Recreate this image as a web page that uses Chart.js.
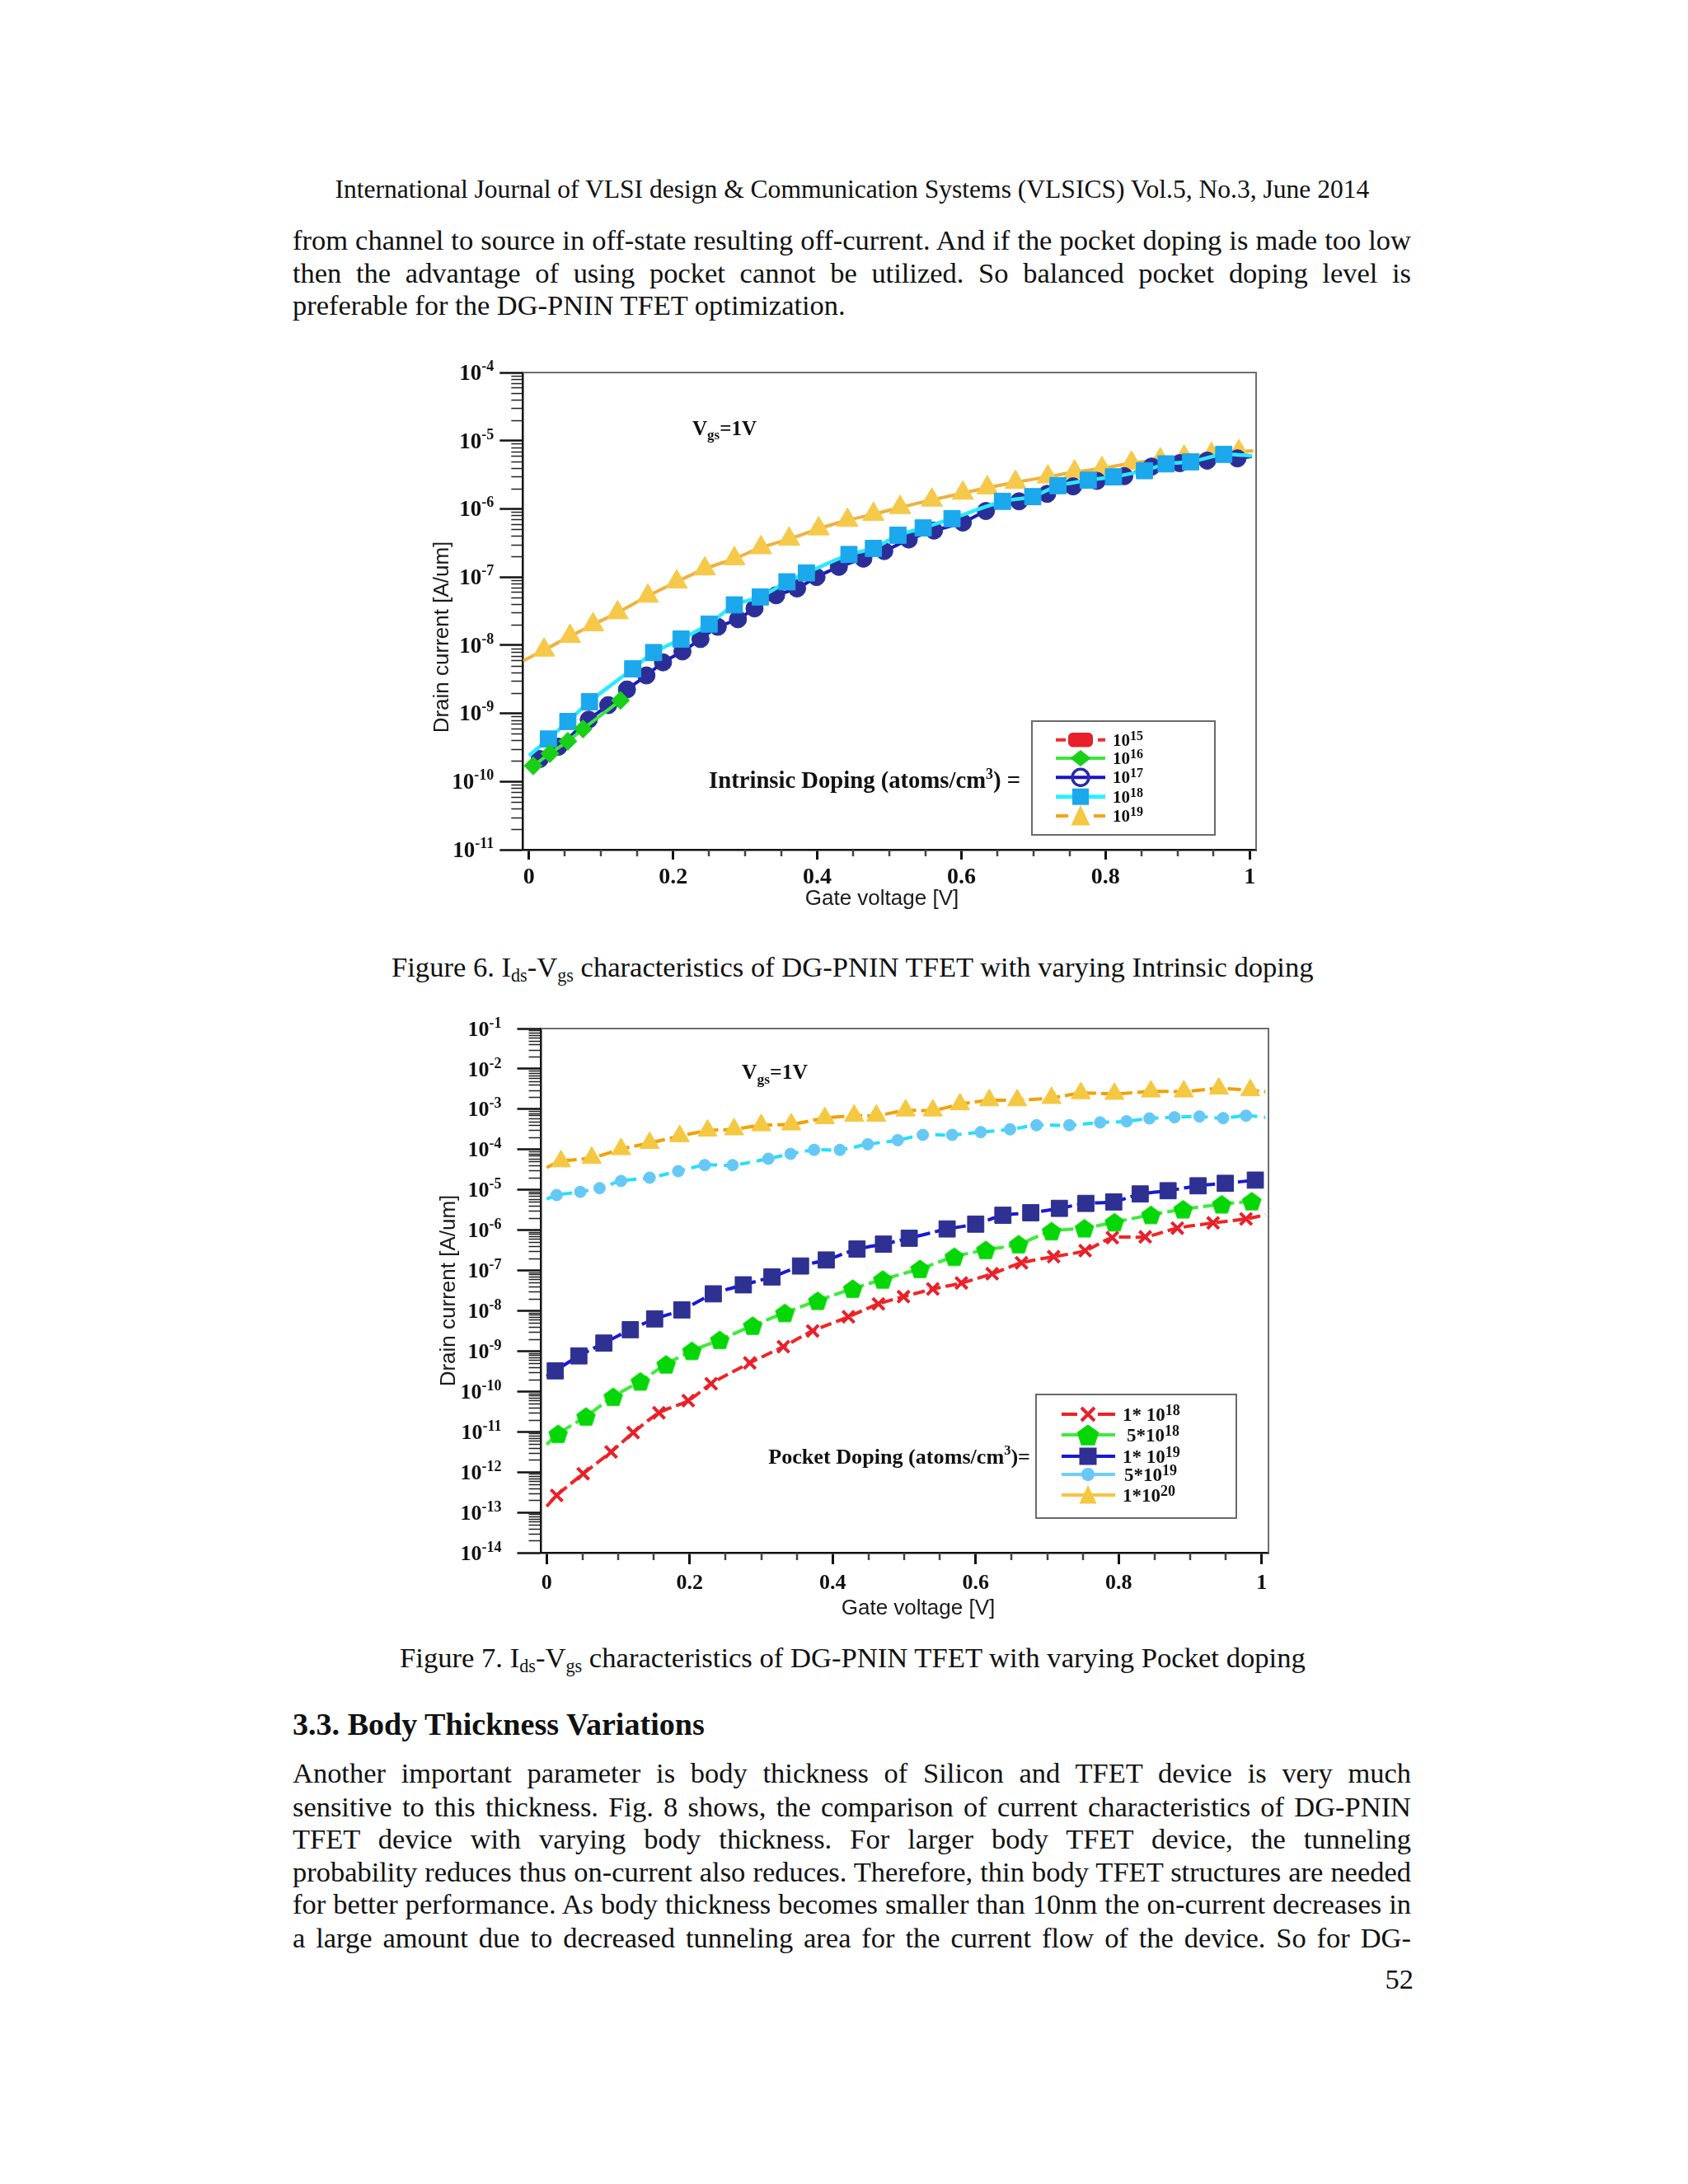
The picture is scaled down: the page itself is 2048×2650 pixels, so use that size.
<!DOCTYPE html>
<html lang="en">
<head>
<meta charset="UTF-8">
<title>DG-PNIN TFET Ids-Vgs characteristics</title>
<script src="https://cdn.jsdelivr.net/npm/chart.js@4.4.1/dist/chart.umd.min.js"></script>
<style>
  html, body { margin: 0; padding: 0; background: #fff; }
  #page { position: relative; width: 2048px; height: 2650px; overflow: hidden;
          font-family: 'Liberation Serif', 'Times New Roman', serif; color: #111; }
  .t { position: absolute; line-height: 44px; white-space: nowrap; }
  .t sub { font-size: 0.64em; vertical-align: -0.28em; line-height: 0; }
  .bold { font-weight: bold; }
  .line { position: absolute; left: 355px; width: 1357px; line-height: 44px; white-space: nowrap; }
  .line.just { white-space: normal; text-align: justify; text-align-last: justify; }
  .chartbox { position: absolute; }
</style>
</head>
<body>
<div id="page">
  <div class="t fit" data-cx="1034" data-cy="230" data-w="1255">International Journal of VLSI design &amp; Communication Systems (VLSICS) Vol.5, No.3, June 2014</div>

  <div class="line" data-cy="291" data-j="1"><span>from channel to source in off-state resulting off-current. And if the pocket doping is made too low</span></div>
  <div class="line" data-cy="331" data-j="1"><span>then the advantage of using pocket cannot be utilized. So balanced pocket doping level is</span></div>
  <div class="line" data-cy="370"><span>preferable for the DG-PNIN TFET optimization.</span></div>

  <div class="chartbox" style="left:480px;top:430px;width:1070px;height:690px;"><canvas id="fig6" width="1070" height="690"></canvas></div>
  <div class="t fit" data-cx="1034.5" data-cy="1173" data-w="1119">Figure 6. I<sub>ds</sub>-V<sub>gs</sub> characteristics of DG-PNIN TFET with varying Intrinsic doping</div>

  <div class="chartbox" style="left:480px;top:1220px;width:1080px;height:760px;"><canvas id="fig7" width="1080" height="760"></canvas></div>
  <div class="t fit" data-cx="1034.5" data-cy="2011" data-w="1099">Figure 7. I<sub>ds</sub>-V<sub>gs</sub> characteristics of DG-PNIN TFET with varying Pocket doping</div>

  <div class="t fit bold" data-x="355" data-cy="2092" data-w="500">3.3. Body Thickness Variations</div>

  <div class="line" data-cy="2151" data-j="1"><span>Another important parameter is body thickness of Silicon and TFET device is very much</span></div>
  <div class="line" data-cy="2192" data-j="1"><span>sensitive to this thickness. Fig. 8 shows, the comparison of current characteristics of DG-PNIN</span></div>
  <div class="line" data-cy="2231" data-j="1"><span>TFET device with varying body thickness. For larger body TFET device, the tunneling</span></div>
  <div class="line" data-cy="2271" data-j="1"><span>probability reduces thus on-current also reduces. Therefore, thin body TFET structures are needed</span></div>
  <div class="line" data-cy="2310" data-j="1"><span>for better performance. As body thickness becomes smaller than 10nm the on-current decreases in</span></div>
  <div class="line" data-cy="2351" data-j="1"><span>a large amount due to decreased tunneling area for the current flow of the device. So for DG-</span></div>

  <div class="t" id="pgno" data-cy="2401">52</div>
</div>

<script>
// ---------- shared axis text ----------
const xTickVals = [0, 0.2, 0.4, 0.6, 0.8, 1];
const xTickLabels = ['0', '0.2', '0.4', '0.6', '0.8', '1'];
const xMinorVals = [0.05, 0.1, 0.15, 0.25, 0.3, 0.35, 0.45, 0.5, 0.55, 0.65, 0.7, 0.75, 0.85, 0.9, 0.95];
const yMinorSig = [2, 3, 4, 5, 6, 7, 8, 9];
const xTitle = 'Gate voltage [V]';
const yTitle = 'Drain current [A/um]';

// ---------- Figure 6: intrinsic doping ----------
const yTickVals6 = [1e-11, 1e-10, 1e-9, 1e-8, 1e-7, 1e-6, 1e-5, 1e-4];
const yTickLabels6 = [['10', '-11'], ['10', '-10'], ['10', '-9'], ['10', '-8'], ['10', '-7'], ['10', '-6'], ['10', '-5'], ['10', '-4']];
const legend6 = [['10', '15'], ['10', '16'], ['10', '17'], ['10', '18'], ['10', '19']];

const vg6_e15 = [];
const id6_e15 = [];
const vg6_e16 = [0.006, 0.029, 0.054, 0.075, 0.127];
const id6_e16 = [1.7e-10, 2.57e-10, 3.9e-10, 5.9e-10, 1.55e-9];
const vg6_e17 = [0, 0.015, 0.041, 0.083, 0.110, 0.136, 0.163, 0.186, 0.213, 0.238, 0.262, 0.290, 0.313, 0.343, 0.372, 0.399,
                 0.430, 0.464, 0.493, 0.527, 0.562, 0.602, 0.634, 0.680, 0.719, 0.755, 0.788, 0.826, 0.864, 0.903, 0.941, 0.983, 1.003];
const id6_e17 = [1.86e-10, 2.14e-10, 3.24e-10, 8.1e-10, 1.32e-9, 2.24e-9, 3.6e-9, 5.6e-9, 8.1e-9, 1.23e-8, 1.86e-8, 2.4e-8, 3.47e-8, 5.4e-8, 6.8e-8, 1.0e-7,
                 1.41e-7, 1.86e-7, 2.4e-7, 3.55e-7, 4.8e-7, 6.3e-7, 9.3e-7, 1.29e-6, 1.66e-6, 2.14e-6, 2.57e-6, 3.02e-6, 4.17e-6, 4.68e-6, 5.1e-6, 5.5e-6, 5.9e-6];
const vg6_e18 = [0, 0.027, 0.054, 0.084, 0.144, 0.173, 0.211, 0.250, 0.285, 0.321, 0.358, 0.385, 0.444, 0.478,
                 0.512, 0.547, 0.587, 0.657, 0.699, 0.734, 0.776, 0.811, 0.854, 0.884, 0.918, 0.964, 1.003];
const id6_e18 = [2.4e-10, 4.2e-10, 7.6e-10, 1.48e-9, 4.5e-9, 7.8e-9, 1.23e-8, 2.04e-8, 3.9e-8, 5.1e-8, 8.5e-8, 1.15e-7, 2.14e-7, 2.63e-7,
                 4.1e-7, 5.25e-7, 7.2e-7, 1.29e-6, 1.51e-6, 2.19e-6, 2.63e-6, 2.95e-6, 3.63e-6, 4.57e-6, 4.9e-6, 6.3e-6, 6.0e-6];
const vg6_e19 = [-0.008, 0.021, 0.057, 0.089, 0.123, 0.165, 0.205, 0.244, 0.285, 0.322, 0.361, 0.402, 0.442, 0.478,
                 0.515, 0.559, 0.602, 0.636, 0.675, 0.720, 0.757, 0.795, 0.836, 0.876, 0.909, 0.947, 0.985, 1.005];
const id6_e19 = [5.9e-9, 8.5e-9, 1.35e-8, 2.0e-8, 3.0e-8, 5.25e-8, 8.5e-8, 1.32e-7, 1.86e-7, 2.7e-7, 3.6e-7, 5.1e-7, 6.8e-7, 8.3e-7,
                 1.05e-6, 1.35e-6, 1.7e-6, 2.04e-6, 2.45e-6, 2.95e-6, 3.47e-6, 3.9e-6, 4.7e-6, 5.25e-6, 5.75e-6, 6.3e-6, 6.9e-6, 7.1e-6];

// ---------- Figure 7: pocket doping ----------
const yTickVals7 = [1e-14, 1e-13, 1e-12, 1e-11, 1e-10, 1e-9, 1e-8, 1e-7, 1e-6, 1e-5, 1e-4, 1e-3, 1e-2, 1e-1];
const yTickLabels7 = [['10', '-14'], ['10', '-13'], ['10', '-12'], ['10', '-11'], ['10', '-10'], ['10', '-9'], ['10', '-8'],
                      ['10', '-7'], ['10', '-6'], ['10', '-5'], ['10', '-4'], ['10', '-3'], ['10', '-2'], ['10', '-1']];
const legend7 = [['1* 10', '18'], ['5*10', '18'], ['1* 10', '19'], ['5*10', '19'], ['1*10', '20']];

const vg7_1e18 = [0, 0.014, 0.051, 0.090, 0.121, 0.157, 0.198, 0.230, 0.284, 0.331, 0.372, 0.422, 0.464,
                  0.499, 0.540, 0.580, 0.623, 0.664, 0.709, 0.753, 0.791, 0.837, 0.882, 0.932, 0.978, 1.005];
const id7_1e18 = [1.41e-13, 2.63e-13, 9.1e-13, 3.16e-12, 9.5e-12, 2.95e-11, 5.9e-11, 1.55e-10, 5.1e-10, 1.29e-9, 3.16e-9, 7.1e-9, 1.48e-8,
                  2.24e-8, 3.47e-8, 4.9e-8, 8.3e-8, 1.55e-7, 2.2e-7, 3.1e-7, 6.5e-7, 6.8e-7, 1.12e-6, 1.51e-6, 1.9e-6, 2.4e-6];
const vg7_5e18 = [0, 0.016, 0.055, 0.093, 0.131, 0.167, 0.203, 0.242, 0.288, 0.333, 0.379, 0.428,
                  0.470, 0.522, 0.570, 0.614, 0.660, 0.706, 0.752, 0.794, 0.845, 0.890, 0.944, 0.986];
const id7_5e18 = [4.8e-12, 8.9e-12, 2.4e-11, 7.4e-11, 1.78e-10, 4.7e-10, 1.02e-9, 1.9e-9, 4.3e-9, 8.9e-9, 1.78e-8, 3.55e-8,
                  6.0e-8, 1.1e-7, 2.2e-7, 3.24e-7, 4.5e-7, 9.5e-7, 1.12e-6, 1.58e-6, 2.4e-6, 3.3e-6, 4.4e-6, 5.25e-6];
const vg7_1e19 = [0, 0.012, 0.045, 0.080, 0.117, 0.151, 0.189, 0.233, 0.275, 0.315, 0.355, 0.391, 0.434, 0.471,
                  0.507, 0.560, 0.600, 0.638, 0.677, 0.717, 0.754, 0.793, 0.830, 0.869, 0.911, 0.949, 0.991];
const id7_1e19 = [2.34e-10, 3.24e-10, 7.6e-10, 1.58e-9, 3.4e-9, 6.3e-9, 1.05e-8, 2.63e-8, 4.4e-8, 6.9e-8, 1.29e-7, 1.82e-7, 3.4e-7, 4.5e-7,
                  6.3e-7, 1.07e-6, 1.41e-6, 2.34e-6, 2.7e-6, 3.47e-6, 4.6e-6, 5.0e-6, 7.9e-6, 9.5e-6, 1.26e-5, 1.45e-5, 1.74e-5];
const vg7_5e19 = [0, 0.014, 0.047, 0.074, 0.104, 0.144, 0.184, 0.221, 0.260, 0.310, 0.341, 0.374, 0.410, 0.449, 0.491,
                  0.526, 0.567, 0.607, 0.648, 0.685, 0.731, 0.774, 0.811, 0.843, 0.878, 0.913, 0.946, 0.978, 1.005];
const id7_5e19 = [5.9e-6, 7.4e-6, 8.9e-6, 1.1e-5, 1.66e-5, 2.0e-5, 2.9e-5, 4.1e-5, 4.1e-5, 5.9e-5, 7.8e-5, 9.8e-5, 9.8e-5, 1.35e-4, 1.7e-4,
                  2.3e-4, 2.3e-4, 2.7e-4, 3.16e-4, 4.0e-4, 4.0e-4, 4.7e-4, 5.0e-4, 5.9e-4, 6.3e-4, 6.6e-4, 6.0e-4, 6.9e-4, 6.3e-4];
const vg7_1e20 = [0, 0.020, 0.063, 0.104, 0.144, 0.186, 0.225, 0.262, 0.300, 0.342, 0.389, 0.430, 0.461,
                  0.502, 0.540, 0.578, 0.619, 0.658, 0.706, 0.747, 0.794, 0.845, 0.891, 0.940, 0.984, 1.005];
const id7_1e20 = [3.6e-5, 5.1e-5, 6.2e-5, 1.02e-4, 1.45e-4, 2.14e-4, 2.95e-4, 3.16e-4, 4.0e-4, 4.2e-4, 6.0e-4, 6.9e-4, 6.9e-4,
                  9.3e-4, 9.3e-4, 1.32e-3, 1.66e-3, 1.66e-3, 1.9e-3, 2.5e-3, 2.4e-3, 2.75e-3, 2.75e-3, 3.24e-3, 2.95e-3, 2.7e-3];

const SERIF = "'Liberation Serif', 'Times New Roman', 'DejaVu Serif', serif";
const SANS = "'Liberation Sans', Arial, 'DejaVu Sans', sans-serif";

// ---------- page text layout ----------
function layoutPage() {
  document.querySelectorAll('.fit').forEach(el => {
    el.style.fontSize = '32px';
    const w = el.getBoundingClientRect().width;
    el.style.fontSize = (32 * el.dataset.w / w) + 'px';
    const left = el.dataset.x ? +el.dataset.x : el.dataset.cx - el.dataset.w / 2;
    el.style.left = left + 'px';
    el.style.top = (el.dataset.cy - 22) + 'px';
  });
  const lines = [...document.querySelectorAll('.line')];
  lines.forEach(l => { l.style.fontSize = '34px'; });
  let maxW = 0;
  lines.forEach(l => {
    if (l.dataset.j) maxW = Math.max(maxW, l.firstElementChild.getBoundingClientRect().width);
  });
  const fs = 34 * 1352 / maxW;
  lines.forEach(l => {
    l.style.fontSize = fs + 'px';
    l.style.top = (l.dataset.cy - 22) + 'px';
    if (l.dataset.j) l.classList.add('just');
  });
  const pg = document.getElementById('pgno');
  pg.style.fontSize = fs + 'px';
  pg.style.right = (2048 - 1715) + 'px';
  pg.style.top = (pg.dataset.cy - 22) + 'px';
}
layoutPage();

// ---------- drawing helpers ----------
function richWidth(ctx, parts, k) {
  let w = 0;
  for (const p of parts) { ctx.font = `bold ${p[1] * k}px ${SERIF}`; w += ctx.measureText(p[0]).width; }
  return w;
}
// parts: [text, size, dy]; cy is the visual middle of the first part
function rich(ctx, parts, x, cy, opt) {
  opt = opt || {};
  let k = opt.k || (opt.w ? opt.w / richWidth(ctx, parts, 1) : 1);
  const w = richWidth(ctx, parts, k);
  let cx = opt.align === 'right' ? x - w : x;
  const base = cy + parts[0][1] * k * 0.33;
  ctx.textAlign = 'left';
  ctx.textBaseline = 'alphabetic';
  ctx.fillStyle = '#111';
  for (const p of parts) {
    ctx.font = `bold ${p[1] * k}px ${SERIF}`;
    ctx.fillText(p[0], cx, base + (p[2] || 0) * k);
    cx += ctx.measureText(p[0]).width;
  }
  return k;
}
function pentPath(ctx, x, y, r) {
  ctx.beginPath();
  for (let i = 0; i < 5; i++) {
    const a = -Math.PI / 2 + i * 2 * Math.PI / 5;
    ctx.lineTo(x + r * Math.cos(a), y + r * Math.sin(a) + r * 0.1);
  }
  ctx.closePath();
}
function pentagonStyle(size, color) {
  const c = document.createElement('canvas');
  c.width = c.height = size;
  const g = c.getContext('2d');
  g.fillStyle = color;
  pentPath(g, size / 2, size / 2, size / 2 - 1);
  g.fill();
  return c;
}
function mark(ctx, kind, x, y, fill, s) {
  ctx.save();
  ctx.setLineDash([]);
  ctx.fillStyle = fill;
  ctx.strokeStyle = fill;
  ctx.beginPath();
  if (kind === 'pill') {
    if (ctx.roundRect) ctx.roundRect(x - s / 2, y - s * 0.29, s, s * 0.58, s * 0.18);
    else ctx.rect(x - s / 2, y - s * 0.29, s, s * 0.58);
    ctx.fill();
  } else if (kind === 'diamond') {
    ctx.moveTo(x - s / 2, y); ctx.lineTo(x, y - s * 0.4); ctx.lineTo(x + s / 2, y); ctx.lineTo(x, y + s * 0.4);
    ctx.closePath(); ctx.fill();
  } else if (kind === 'ring') {
    ctx.lineWidth = 3.5; ctx.arc(x, y, s / 2, 0, Math.PI * 2); ctx.stroke();
  } else if (kind === 'square') {
    ctx.rect(x - s / 2, y - s / 2, s, s); ctx.fill();
  } else if (kind === 'tri') {
    ctx.moveTo(x, y - s * 0.58); ctx.lineTo(x + s * 0.5, y + s * 0.5); ctx.lineTo(x - s * 0.5, y + s * 0.5);
    ctx.closePath(); ctx.fill();
  } else if (kind === 'x') {
    ctx.lineWidth = 4;
    ctx.moveTo(x - s / 2, y - s / 2); ctx.lineTo(x + s / 2, y + s / 2);
    ctx.moveTo(x + s / 2, y - s / 2); ctx.lineTo(x - s / 2, y + s / 2);
    ctx.stroke();
  } else if (kind === 'pent') {
    pentPath(ctx, x, y, s / 2); ctx.fill();
  } else if (kind === 'dot') {
    ctx.arc(x, y, s / 2, 0, Math.PI * 2); ctx.fill();
  }
  ctx.restore();
}
function drawLegend(ctx, L, labels) {
  ctx.save();
  ctx.fillStyle = '#fff';
  ctx.fillRect(L.x, L.y, L.w, L.h);
  ctx.strokeStyle = '#6a6a6a';
  ctx.lineWidth = 2;
  ctx.strokeRect(L.x, L.y, L.w, L.h);
  L.items.forEach((it, i) => {
    const cy = L.y + L.rows[i];
    ctx.strokeStyle = it.line;
    ctx.lineWidth = it.lw || 4;
    ctx.beginPath();
    if (it.gap) {
      ctx.moveTo(L.x + L.l0, cy); ctx.lineTo(L.x + L.l0 + it.gap[0], cy);
      ctx.moveTo(L.x + L.l1 - it.gap[1], cy); ctx.lineTo(L.x + L.l1, cy);
    } else {
      ctx.moveTo(L.x + L.l0, cy); ctx.lineTo(L.x + L.l1, cy);
    }
    ctx.stroke();
    mark(ctx, it.kind, L.x + L.m, cy, it.fill, it.s);
    const parts = [[labels[i][0], L.fs], [labels[i][1], L.sup, -L.raise]];
    rich(ctx, parts, L.x + L.tx + (L.dx ? L.dx[i] : 0), cy, {k: 1});
  });
  ctx.restore();
}

// axis decorations, tick labels, titles, in-plot texts and legend
const decor = {
  id: 'decor',
  afterDraw(chart, args, o) {
    const ctx = chart.ctx, a = chart.chartArea, xs = chart.scales.x, ys = chart.scales.y;
    ctx.save();
    // frame (top and right)
    ctx.strokeStyle = '#6e6e6e';
    ctx.lineWidth = 2;
    ctx.beginPath();
    ctx.moveTo(a.left, a.top); ctx.lineTo(a.right, a.top); ctx.lineTo(a.right, a.bottom);
    ctx.stroke();
    // minor y ticks
    ctx.strokeStyle = '#222';
    ctx.lineWidth = 1.6;
    ctx.beginPath();
    for (let e = o.decades[0]; e < o.decades[1]; e++) {
      yMinorSig.forEach(m => {
        const py = Math.round(ys.getPixelForValue(m * Math.pow(10, e))) + 0.5;
        ctx.moveTo(a.left - o.yMinorLen, py); ctx.lineTo(a.left, py);
      });
    }
    ctx.stroke();
    // y tick labels with superscript exponents
    o.yVals.forEach((v, i) => {
      const py = ys.getPixelForValue(v);
      rich(ctx, [[o.yLabels[i][0], o.yFont], [o.yLabels[i][1], o.ySup, -o.yRaise]], a.left - o.yGap, py, {k: 1, align: 'right'});
    });
    // minor x ticks
    ctx.strokeStyle = '#444';
    ctx.lineWidth = 2.5;
    ctx.beginPath();
    xMinorVals.forEach(v => {
      const px = Math.round(xs.getPixelForValue(v));
      ctx.moveTo(px, a.bottom); ctx.lineTo(px, a.bottom + o.xMinorLen);
    });
    ctx.stroke();
    // axis titles
    ctx.fillStyle = '#1a1a1a';
    ctx.font = `26px ${SANS}`;
    ctx.textAlign = 'center';
    ctx.textBaseline = 'middle';
    ctx.fillText(xTitle, o.xTitle.x, o.xTitle.y);
    ctx.save();
    ctx.translate(o.yTitle.x, o.yTitle.y);
    ctx.rotate(-Math.PI / 2);
    ctx.fillText(yTitle, 0, 0);
    ctx.restore();
    // Vgs=1V
    rich(ctx, [['V', 25], ['gs', 17, 5], ['=1V', 25]], o.vgs.x, o.vgs.y, {w: o.vgs.w});
    // doping caption
    rich(ctx, o.doping.parts, o.doping.right, o.doping.y, {w: o.doping.w, align: 'right'});
    drawLegend(ctx, o.legend, o.legendLabels);
    ctx.restore();
  }
};

function series(xs, ys, st) {
  const last = xs.length - 1;
  return {
    label: st.label,
    data: xs.map((x, i) => ({x, y: ys[i]})),
    borderColor: st.line,
    borderWidth: st.lw || 4,
    borderDash: st.dash || [],
    tension: 0.25,
    fill: false,
    pointStyle: st.point,
    pointBackgroundColor: st.fill,
    pointBorderColor: st.pstroke || st.fill,
    pointBorderWidth: st.pbw || 1,
    pointRadius: c => ((st.bareStart && c.dataIndex === 0) || (st.bareEnd && c.dataIndex === last)) ? 0 : st.r,
    pointHoverRadius: st.r
  };
}

function axes(cfg) {
  return {
    x: {
      type: 'linear', min: cfg.xmin, max: cfg.xmax,
      afterBuildTicks: s => { s.ticks = xTickVals.map(v => ({value: v})); },
      afterFit: s => { s.height = cfg.xHeight; },
      ticks: { autoSkip: false, maxRotation: 0, padding: cfg.xPad, color: '#111',
               font: {family: SERIF, size: cfg.xFont, weight: 'bold'},
               callback: (v, i) => xTickLabels[i] },
      grid: { drawOnChartArea: false, drawTicks: true, tickLength: cfg.xTick, tickWidth: 3, tickColor: '#111' },
      border: { display: true, color: '#111', width: 2.5 }
    },
    y: {
      type: 'logarithmic', min: cfg.ymin, max: cfg.ymax,
      afterBuildTicks: s => { s.ticks = cfg.yVals.map(v => ({value: v, major: true})); },
      afterFit: s => { s.width = cfg.yWidth; },
      ticks: { display: false, autoSkip: false },
      grid: { drawOnChartArea: false, drawTicks: true, tickLength: cfg.yTick, tickWidth: 2.5, tickColor: '#111' },
      border: { display: true, color: '#111', width: 2.5 }
    }
  };
}

// ---------- Figure 6 chart ----------
new Chart(document.getElementById('fig6'), {
  type: 'line',
  data: {
    datasets: [
      series(vg6_e15, id6_e15, {label: '10^15', line: '#f02a2a', fill: '#e8202a', point: 'rectRounded', r: 10}),
      series(vg6_e16, id6_e16, {label: '10^16', line: '#3ee63e', fill: '#19cf19', point: 'rectRot', r: 11}),
      series(vg6_e18, id6_e18, {label: '10^18', line: '#2aeaff', fill: '#1ba8ec', point: 'rect', r: 14, lw: 4.5, bareStart: true, bareEnd: true}),
      series(vg6_e17, id6_e17, {label: '10^17', line: '#1818c8', fill: '#2c2e98', point: 'circle', r: 10.5, bareStart: true, bareEnd: true}),
      series(vg6_e19, id6_e19, {label: '10^19', line: '#eeb23c', fill: '#f6c94a', point: 'triangle', r: 15, bareStart: true, bareEnd: true})
    ]
  },
  options: {
    responsive: false,
    animation: false,
    layout: { padding: {left: 0, top: 22, right: 26, bottom: 0} },
    scales: axes({xmin: -0.0085, xmax: 1.0089, xHeight: 89, xPad: 5, xFont: 28, xTick: 12,
                  ymin: 1e-11, ymax: 1e-4, yVals: yTickVals6, yWidth: 154.3, yTick: 28}),
    plugins: {
      legend: { display: false },
      tooltip: { enabled: false },
      decor: {
        decades: [-11, -4], yMinorLen: 14, xMinorLen: 8,
        yVals: yTickVals6, yLabels: yTickLabels6, yFont: 27, ySup: 18, yRaise: 11, yGap: 35,
        xTitle: {x: 590, y: 661}, yTitle: {x: 57, y: 343},
        vgs: {x: 360, y: 90, w: 78},
        doping: {parts: [['Intrinsic Doping (atoms/cm', 24], ['3', 15, -10], [') =', 24]], right: 758, y: 517, w: 378},
        legendLabels: legend6,
        legend: {
          x: 772, y: 445, w: 222, h: 138, rows: [22.7, 45, 68.3, 91.7, 115],
          l0: 29, l1: 89, m: 59, tx: 98, fs: 21, sup: 16, raise: 7,
          items: [
            {line: '#f02a2a', gap: [12, 9], kind: 'pill', fill: '#e8202a', s: 30},
            {line: '#3ee63e', kind: 'diamond', fill: '#19d119', s: 25},
            {line: '#1414c8', kind: 'ring', fill: '#2b2ba8', s: 20},
            {line: '#2af0ff', lw: 5, kind: 'square', fill: '#1ba8ec', s: 20},
            {line: '#f7a21a', gap: [15, 14], kind: 'tri', fill: '#f5c842', s: 23}
          ]
        }
      }
    }
  },
  plugins: [decor]
});

// ---------- Figure 7 chart ----------
const pent = pentagonStyle(27, '#05d605');
new Chart(document.getElementById('fig7'), {
  type: 'line',
  data: {
    datasets: [
      series(vg7_1e18, id7_1e18, {label: '1*10^18', line: '#f22424', fill: '#e8202a', pstroke: '#e8202a', pbw: 4, point: 'crossRot', r: 10, dash: [14, 6], bareStart: true, bareEnd: true}),
      series(vg7_5e18, id7_5e18, {label: '5*10^18', line: '#3cec3c', fill: '#05d605', point: pent, r: 13, dash: [16, 6], bareStart: true}),
      series(vg7_1e19, id7_1e19, {label: '1*10^19', line: '#1818dc', fill: '#2e3192', point: 'rect', r: 14, dash: [16, 6], bareStart: true}),
      series(vg7_5e19, id7_5e19, {label: '5*10^19', line: '#22e0ff', fill: '#66c8f5', point: 'circle', r: 7, dash: [12, 8], bareStart: true, bareEnd: true}),
      series(vg7_1e20, id7_1e20, {label: '1*10^20', line: '#f4a000', fill: '#f5c842', point: 'triangle', r: 13.5, dash: [16, 6], bareStart: true, bareEnd: true})
    ]
  },
  options: {
    responsive: false,
    animation: false,
    layout: { padding: {left: 0, top: 28, right: 21, bottom: 0} },
    scales: axes({xmin: -0.0078, xmax: 1.0094, xHeight: 96, xPad: 8, xFont: 26, xTick: 14,
                  ymin: 1e-14, ymax: 1e-1, yVals: yTickVals7, yWidth: 176.5, yTick: 29}),
    plugins: {
      legend: { display: false },
      tooltip: { enabled: false },
      decor: {
        decades: [-14, -1], yMinorLen: 15, xMinorLen: 9,
        yVals: yTickVals7, yLabels: yTickLabels7, yFont: 26, ySup: 18, yRaise: 10, yGap: 48,
        xTitle: {x: 634, y: 732}, yTitle: {x: 65, y: 346},
        vgs: {x: 420, y: 81, w: 80},
        doping: {parts: [['Pocket Doping (atoms/cm', 24], ['3', 15, -10], [')=', 24]], right: 770, y: 547, w: 318},
        legendLabels: legend7,
        legend: {
          x: 777, y: 472, w: 243, h: 150, rows: [24, 49, 75, 97, 122],
          l0: 31, l1: 96, m: 63, tx: 105, fs: 23, sup: 18, raise: 7, dx: [0, 5, 0, 2, 0],
          items: [
            {line: '#ee2222', gap: [19, 21], kind: 'x', fill: '#e8202a', s: 16},
            {line: '#3cec3c', kind: 'pent', fill: '#05d605', s: 28},
            {line: '#1818d8', kind: 'square', fill: '#2e3192', s: 21},
            {line: '#6fd0f7', kind: 'dot', fill: '#66c8f5', s: 16},
            {line: '#f5c542', kind: 'tri', fill: '#f5c842', s: 21}
          ]
        }
      }
    }
  },
  plugins: [decor]
});
</script>
</body>
</html>
